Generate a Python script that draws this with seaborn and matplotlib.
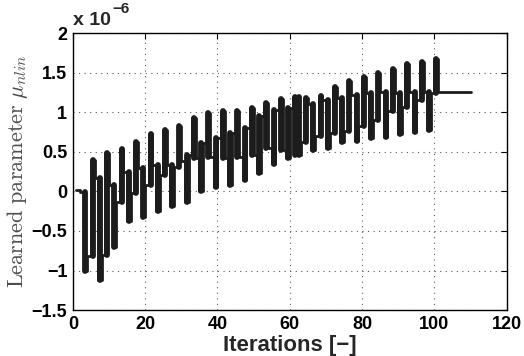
import numpy as np
import pandas as pd
import seaborn as sns
import matplotlib.pyplot as plt
from matplotlib.ticker import FuncFormatter

# learned parameter mu_nlin per iteration (values in units of 1e-6)
iterations = list(range(1, 111))
mu_nlin = [
    0.02, -0.01, -1.01, -0.82, 0.40, 0.17, -1.12, -0.80, 0.49, 0.08,    # 1-10
    -0.70, -0.13, 0.54, 0.25, -0.38, -0.02, 0.63, 0.30, -0.33, 0.08,    # 11-20
    0.73, 0.33, -0.25, 0.21, 0.78, 0.33, -0.19, 0.31, 0.83, 0.38,       # 21-30
    -0.13, 0.46, 0.93, 0.42, 0.00, 0.61, 0.99, 0.44, 0.06, 0.67,        # 31-40
    1.01, 0.42, 0.08, 0.74, 1.01, 0.44, 0.14, 0.80, 1.05, 0.46,         # 41-50
    0.23, 0.95, 1.12, 0.55, 0.34, 1.03, 1.17, 0.52, 0.42, 1.05,         # 51-60
    1.19, 0.46, 0.62, 1.18, 1.10, 0.52, 0.70, 1.21, 1.15, 0.55,         # 61-70
    0.74, 1.32, 1.18, 0.62, 0.76, 1.39, 1.22, 0.64, 0.82, 1.45,         # 71-80
    1.24, 0.67, 0.90, 1.50, 1.26, 0.69, 1.01, 1.55, 1.24, 0.72,         # 81-90
    1.07, 1.61, 1.26, 0.75, 1.16, 1.63, 1.26, 0.78, 1.24, 1.67,         # 91-100
    1.25, 1.25, 1.25, 1.25, 1.25, 1.25, 1.25, 1.25, 1.25, 1.25,         # 101-110
]

x_ticks = [0, 20, 40, 60, 80, 100, 120]
y_ticks = [-1.5, -1, -0.5, 0, 0.5, 1, 1.5, 2]

df = pd.DataFrame({'iteration': iterations, 'mu': mu_nlin})

sns.set_style('white')
plt.rcParams['font.family'] = ['Liberation Sans', 'DejaVu Sans']
plt.rcParams['mathtext.fontset'] = 'cm'

fig = plt.figure(figsize=(5.24, 3.56), dpi=100)
ax = fig.add_axes([0.139, 0.129, 0.828, 0.778])

line_col = '#1c1c1c'
sns.lineplot(data=df, x='iteration', y='mu', ax=ax, estimator=None,
             drawstyle='steps-post', color=line_col, linewidth=2.0,
             solid_joinstyle='round', solid_capstyle='round')

# the one-iteration spikes read as solid bars (up and down stroke overlap)
v = df['mu'].to_numpy()
it = df['iteration'].to_numpy()
prev, cur, nxt = v[:-2], v[1:-1], v[2:]
hi = (cur > prev) & (cur > nxt)
lo = (cur < prev) & (cur < nxt)
bx = np.concatenate([it[1:-1][hi], it[1:-1][lo]]) + 0.5
b0 = np.concatenate([np.minimum(prev, nxt)[hi], cur[lo]])
b1 = np.concatenate([cur[hi], np.maximum(prev, nxt)[lo]])
ax.vlines(bx, b0, b1, colors=line_col, linewidth=4.2, capstyle='round')

ax.set_xlim(0, 120)
ax.set_ylim(-1.5, 2)
ax.set_xticks(x_ticks)
ax.set_yticks(y_ticks)
ax.yaxis.set_major_formatter(FuncFormatter(lambda v, p: ('%g' % v).replace('-', '\u2212')))
ax.tick_params(direction='in', length=4, width=0.8, top=True, right=True,
               labelsize=13, pad=4, colors='black')
for lab in ax.get_xticklabels() + ax.get_yticklabels():
    lab.set_fontweight('bold')

for sp in ax.spines.values():
    sp.set_visible(True)
    sp.set_color('black')
    sp.set_linewidth(1.0)

ax.grid(True, linestyle=(0, (1, 4)), color='0.35', linewidth=0.8)

ax.set_xlabel('Iterations [\u2212]', fontsize=16, fontweight='bold', labelpad=2)
ax.set_ylabel(r'$\mathrm{Learned\ parameter}\ \mu_{nlin}$', fontsize=16,
              color='0.3', labelpad=1)

# MATLAB style exponent label above the axes
ax.text(0.0, 1.015, 'x 10', transform=ax.transAxes, fontsize=14,
        fontweight='bold', ha='left', va='bottom')
ax.text(0.092, 1.06, '\u22126', transform=ax.transAxes, fontsize=11,
        fontweight='bold', ha='left', va='bottom')

fig.savefig('out.png', dpi=100)
